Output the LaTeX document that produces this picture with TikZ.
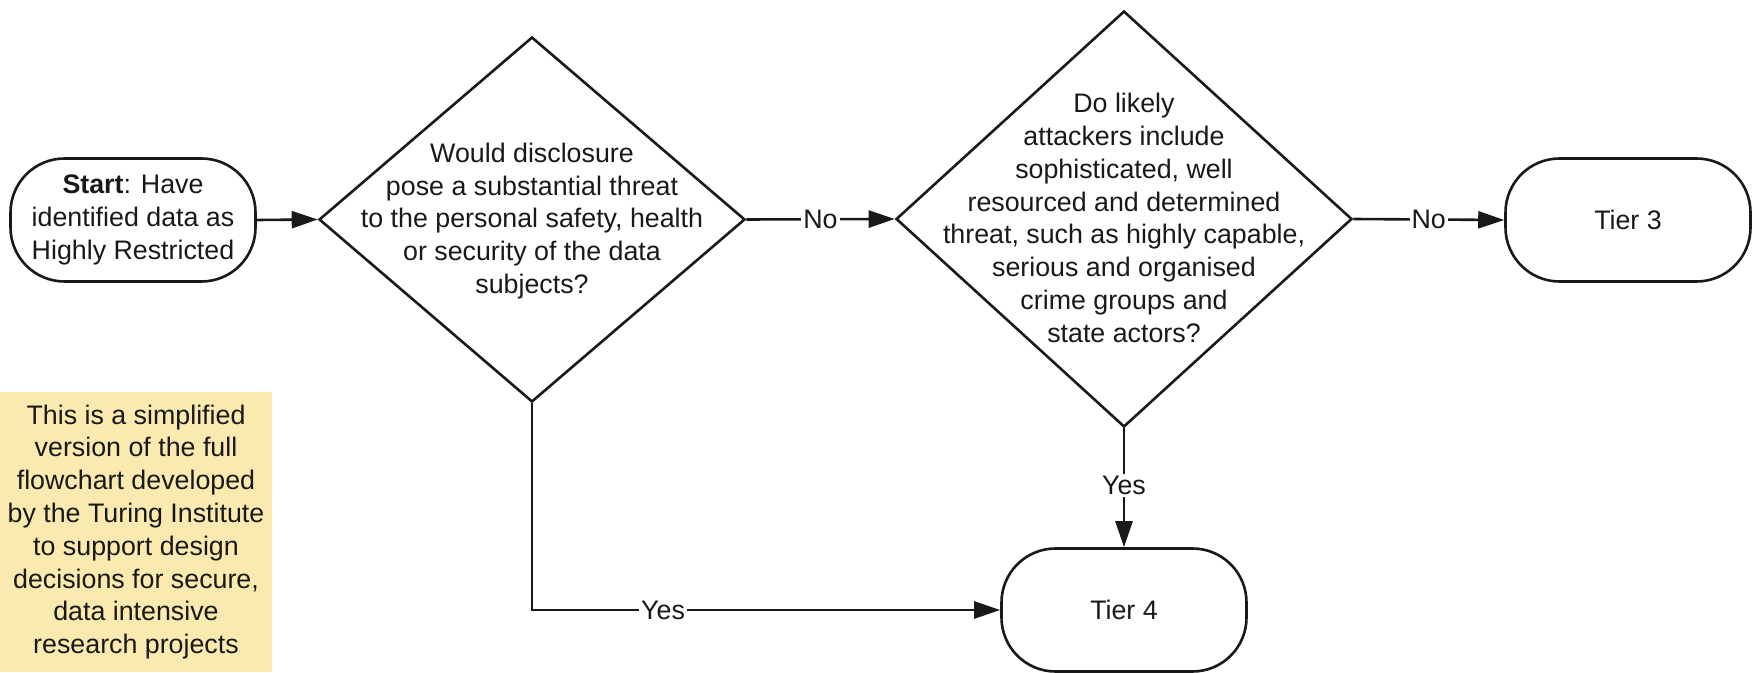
\documentclass[tikz,border=0pt]{standalone}
\usepackage{fontspec}
\setmainfont{Liberation Sans}
\usetikzlibrary{arrows.meta,shapes.geometric}
\definecolor{notefill}{RGB}{251,234,176}
\definecolor{ink}{RGB}{25,25,25}
\tikzset{
  every node/.style={font=\fontsize{13.4pt}{16.4pt}\selectfont, text=ink},
  term/.style={draw=ink, line width=1.3pt, rounded corners=27pt, minimum width=122.5pt, minimum height=61.5pt, align=center, inner sep=0pt},
  decision/.style={draw=ink, line width=1.3pt, diamond, inner sep=0pt},
  qtext/.style={align=center, inner sep=0pt},
  notebox/.style={fill=notefill, minimum width=136pt, minimum height=140pt, align=center, inner sep=0pt},
  flow/.style={draw=ink, line width=1.3pt, -{Triangle[length=13pt,width=8.5pt]}},
  lbl/.style={fill=white, inner sep=1pt}
}
\begin{document}
\begin{tikzpicture}[x=0.5pt,y=-0.5pt]
\useasboundingbox (0,0) rectangle (1756,673);
\node[term] (start) at (133,220) {\textbf{Start}: Have\\identified data as\\Highly Restricted};
\node[decision, minimum width=213pt, minimum height=182.5pt] (d1) at (532,219.5) {};
\node[qtext] (q1) at (532,221) {Would disclosure\\pose a substantial threat\\to the personal safety, health\\or security of the data\\subjects?};
\node[decision, minimum width=228pt, minimum height=208pt] (d2) at (1124,219) {};
\node[qtext] (q2) at (1124,218) {Do likely\\attackers include\\sophisticated, well\\resourced and determined\\threat, such as highly capable,\\serious and organised\\crime groups and\\state actors?};
\node[term] (t3) at (1628,220) {Tier 3};
\node[term] (t4) at (1124,610) {Tier 4};
\node[notebox] (note) at (136,532) {This is a simplified\\version of the full\\flowchart developed\\by the Turing Institute\\to support design\\decisions for secure,\\data intensive\\research projects};
\draw[flow] (start.east) -- (d1.west);
\draw[flow] (d1.east) -- node[lbl] {No} (d2.west);
\draw[flow] (d2.east) -- node[lbl] {No} (t3.west);
\draw[flow] (d1.south) |- node[lbl, pos=0.64] {Yes} (t4.west);
\draw[flow] (d2.south) -- node[lbl, pos=0.48] {Yes} (t4.north);
\end{tikzpicture}
\end{document}
